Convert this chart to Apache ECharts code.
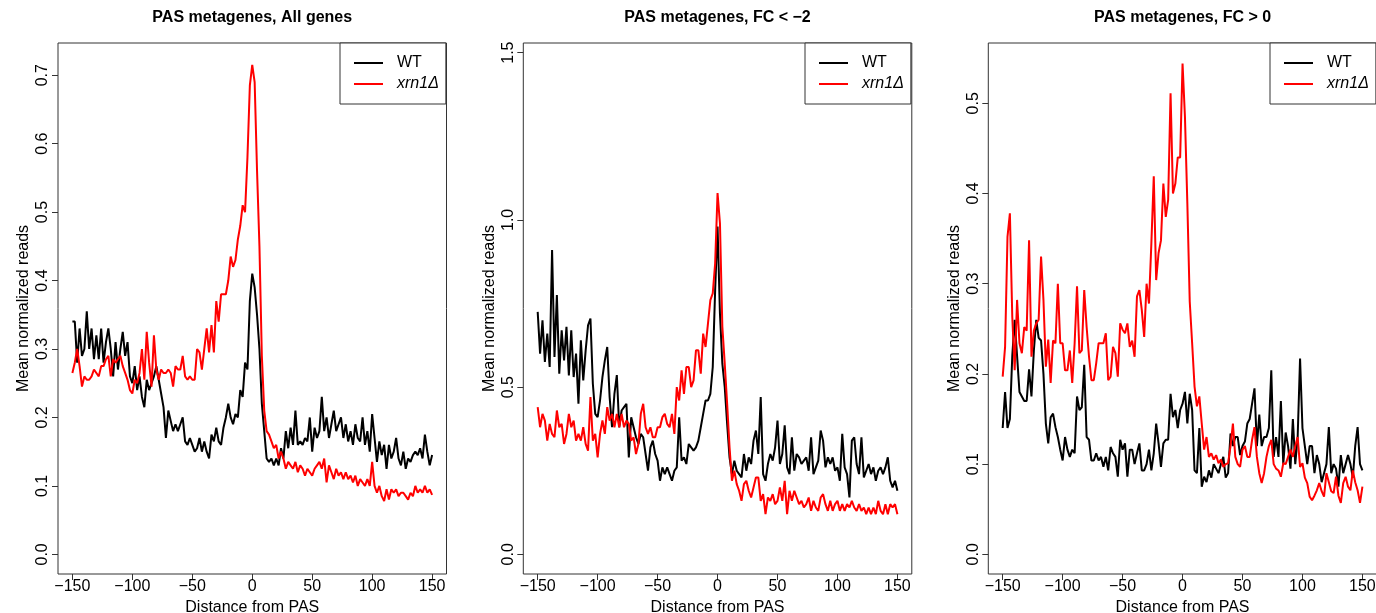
<!DOCTYPE html>
<html>
<head>
<meta charset="utf-8">
<script src="https://cdn.jsdelivr.net/npm/echarts@6/dist/echarts.min.js"></script>
<style>
html,body{margin:0;padding:0;background:#ffffff;}
#chart{width:1376px;height:613px;}
</style>
</head>
<body>
<div id="chart"></div>
<script>
// ---------- DATA ----------
// distance from PAS (every 2 nt, -150 .. 150)
const positions = Array.from({length: 151}, (_, i) => -150 + 2 * i);
const xTickValues = [-150, -100, -50, 0, 50, 100, 150];
const panelTitles = ['PAS metagenes, All genes', 'PAS metagenes, FC < \u22122', 'PAS metagenes, FC > 0'];
const seriesNames = ['WT', 'xrn1\u0394'];
const yTicksAll = [0, 0.1, 0.2, 0.3, 0.4, 0.5, 0.6, 0.7];
const yTicksFcNeg2 = [0, 0.5, 1.0, 1.5];
const yTicksFcPos0 = [0, 0.1, 0.2, 0.3, 0.4, 0.5];

const allGenesWT = [
0.34,0.34,0.28,0.33,0.29,0.30,0.355,0.30,0.33,0.285,
0.32,0.285,0.33,0.28,0.31,0.33,0.30,0.26,0.31,0.27,
0.30,0.325,0.29,0.31,0.26,0.25,0.275,0.24,0.26,0.23,
0.215,0.255,0.24,0.25,0.26,0.275,0.255,0.235,0.215,0.17,
0.21,0.195,0.18,0.19,0.18,0.19,0.2,0.165,0.16,0.17,
0.16,0.15,0.155,0.17,0.15,0.165,0.15,0.14,0.175,0.165,
0.185,0.165,0.16,0.185,0.2,0.22,0.2,0.19,0.205,0.2,
0.24,0.23,0.28,0.27,0.37,0.41,
0.39,0.35,0.30,0.22,0.18,0.14,0.135,0.14,0.13,0.14,
0.13,0.155,0.14,0.18,0.155,0.185,0.16,0.21,0.16,0.165,
0.16,0.17,0.165,0.2,0.15,0.185,0.17,0.18,0.23,0.18,
0.2,0.17,0.19,0.21,0.18,0.19,0.2,0.17,0.19,0.165,
0.18,0.16,0.19,0.17,0.165,0.2,0.16,0.18,0.15,0.205,
0.17,0.135,0.165,0.145,0.16,0.125,0.16,0.14,0.15,0.17,
0.14,0.13,0.15,0.125,0.14,0.135,0.145,0.15,0.145,0.155,
0.14,0.175,0.15,0.13,0.145];

const allGenesXrn1 = [
0.265,0.28,0.30,0.275,0.245,0.26,0.255,0.255,0.26,0.27,
0.265,0.26,0.275,0.275,0.285,0.29,0.26,0.285,0.28,0.285,
0.29,0.275,0.265,0.255,0.24,0.235,0.255,0.25,0.265,0.3,
0.255,0.325,0.28,0.245,0.32,0.27,0.255,0.27,0.265,0.265,
0.27,0.265,0.245,0.275,0.27,0.27,0.29,0.26,0.255,0.26,
0.255,0.255,0.3,0.295,0.27,0.3,0.33,0.295,0.335,0.295,
0.37,0.34,0.38,0.38,0.38,0.40,0.435,0.42,0.43,0.46,
0.48,0.51,0.50,0.58,0.685,0.715,
0.69,0.56,0.45,0.29,0.21,0.18,0.175,0.165,0.155,0.16,
0.14,0.15,0.14,0.125,0.135,0.13,0.125,0.135,0.12,0.13,
0.125,0.115,0.125,0.12,0.115,0.125,0.13,0.135,0.125,0.14,
0.105,0.13,0.12,0.11,0.125,0.115,0.12,0.11,0.12,0.11,
0.115,0.105,0.115,0.1,0.11,0.105,0.1,0.11,0.1,0.135,
0.1,0.09,0.1,0.085,0.078,0.095,0.08,0.095,0.09,0.095,
0.085,0.09,0.09,0.085,0.08,0.09,0.085,0.1,0.09,0.095,
0.09,0.1,0.09,0.095,0.087];

const fcNeg2WT = [
0.725,0.60,0.70,0.575,0.66,0.56,0.91,0.59,0.775,0.54,
0.67,0.58,0.68,0.535,0.67,0.53,0.60,0.45,0.64,0.52,
0.61,0.685,0.705,0.51,0.42,0.41,0.46,0.53,0.58,0.62,
0.47,0.38,0.48,0.536,0.38,0.43,0.44,0.45,0.29,0.41,
0.38,0.35,0.33,0.36,0.35,0.30,0.25,0.32,0.34,0.30,
0.28,0.22,0.26,0.24,0.26,0.24,0.22,0.25,0.26,0.41,
0.28,0.29,0.27,0.33,0.32,0.31,0.32,0.34,0.38,0.42,
0.46,0.46,0.48,0.56,0.79,0.98,
0.72,0.57,0.50,0.39,0.29,0.24,0.28,0.25,0.24,0.23,
0.30,0.25,0.29,0.27,0.34,0.37,0.30,0.47,0.24,0.22,
0.27,0.30,0.28,0.32,0.40,0.27,0.30,0.386,0.26,0.24,
0.35,0.25,0.30,0.29,0.27,0.28,0.29,0.25,0.35,0.24,
0.26,0.28,0.37,0.34,0.26,0.29,0.27,0.29,0.25,0.26,
0.22,0.36,0.26,0.24,0.17,0.34,0.35,0.27,0.24,0.35,
0.23,0.25,0.27,0.24,0.26,0.22,0.25,0.26,0.24,0.26,
0.29,0.22,0.20,0.22,0.19];

const fcNeg2Xrn1 = [
0.44,0.38,0.42,0.40,0.34,0.39,0.36,0.35,0.43,0.38,
0.39,0.33,0.36,0.42,0.38,0.40,0.34,0.36,0.34,0.38,
0.33,0.31,0.47,0.34,0.36,0.29,0.36,0.40,0.36,0.44,
0.40,0.42,0.38,0.42,0.38,0.42,0.38,0.40,0.39,0.34,
0.35,0.30,0.33,0.42,0.45,0.38,0.36,0.38,0.35,0.35,
0.38,0.38,0.41,0.42,0.39,0.38,0.42,0.36,0.50,0.46,
0.55,0.48,0.56,0.56,0.50,0.52,0.61,0.61,0.54,0.66,
0.62,0.69,0.76,0.78,0.87,1.08,
0.99,0.68,0.57,0.45,0.32,0.22,0.25,0.21,0.19,0.16,
0.21,0.22,0.19,0.17,0.20,0.23,0.23,0.16,0.18,0.12,
0.17,0.16,0.18,0.15,0.16,0.20,0.16,0.22,0.12,0.19,
0.16,0.19,0.17,0.15,0.16,0.14,0.15,0.17,0.13,0.16,
0.14,0.13,0.17,0.18,0.15,0.13,0.16,0.13,0.15,0.16,
0.13,0.15,0.13,0.15,0.14,0.16,0.14,0.13,0.15,0.13,
0.14,0.12,0.14,0.12,0.14,0.12,0.16,0.13,0.12,0.15,
0.12,0.15,0.14,0.15,0.12];

const fcPos0WT = [
0.14,0.18,0.14,0.15,0.22,0.26,0.22,0.18,0.175,0.17,
0.17,0.205,0.175,0.226,0.26,0.24,0.237,0.2,0.145,0.123,
0.152,0.156,0.141,0.13,0.116,0.104,0.13,0.116,0.108,0.116,
0.112,0.175,0.16,0.163,0.21,0.13,0.127,0.104,0.104,0.112,
0.104,0.108,0.097,0.108,0.093,0.119,0.112,0.108,0.086,0.127,
0.116,0.123,0.086,0.116,0.116,0.1,0.112,0.123,0.093,0.093,
0.1,0.116,0.093,0.112,0.145,0.123,0.097,0.123,0.127,0.127,
0.178,0.152,0.16,0.14,0.16,0.167,
0.18,0.145,0.178,0.16,0.093,0.09,0.14,0.075,0.086,0.08,
0.093,0.085,0.1,0.095,0.09,0.1,0.108,0.085,0.09,0.134,
0.12,0.13,0.13,0.11,0.12,0.125,0.145,0.15,0.167,0.184,
0.12,0.155,0.12,0.13,0.13,0.14,0.204,0.108,0.13,0.108,
0.17,0.1,0.135,0.12,0.095,0.15,0.1,0.13,0.217,0.14,
0.12,0.1,0.12,0.12,0.09,0.11,0.1,0.08,0.09,0.1,
0.141,0.09,0.1,0.095,0.075,0.11,0.09,0.1,0.11,0.1,
0.085,0.12,0.141,0.1,0.093];

const fcPos0Xrn1 = [
0.197,0.23,0.352,0.378,0.263,0.204,0.282,0.234,0.223,0.252,
0.248,0.348,0.219,0.248,0.256,0.26,0.33,0.282,0.208,0.238,
0.19,0.237,0.234,0.30,0.234,0.234,0.204,0.204,0.226,0.19,
0.234,0.297,0.223,0.226,0.293,0.252,0.219,0.193,0.193,0.212,
0.234,0.234,0.234,0.245,0.193,0.197,0.23,0.223,0.197,0.256,
0.249,0.245,0.256,0.23,0.237,0.219,0.286,0.293,0.271,0.241,
0.30,0.278,0.345,0.419,0.304,0.334,0.348,0.411,0.374,0.393,
0.511,0.40,0.411,0.44,0.44,0.544,
0.485,0.389,0.28,0.234,0.186,0.164,0.175,0.145,0.116,0.13,
0.108,0.112,0.105,0.11,0.101,0.105,0.097,0.1,0.101,0.12,
0.145,0.108,0.1,0.097,0.116,0.12,0.108,0.108,0.127,0.141,
0.108,0.09,0.079,0.09,0.108,0.12,0.127,0.1,0.095,0.093,
0.086,0.101,0.1,0.108,0.116,0.108,0.12,0.13,0.097,0.101,
0.085,0.079,0.064,0.06,0.065,0.071,0.079,0.07,0.064,0.09,
0.08,0.07,0.068,0.086,0.065,0.057,0.079,0.086,0.075,0.071,
0.093,0.08,0.071,0.057,0.075];

// ---------- LAYOUT / STYLE ----------
const FONT = 'Liberation Sans, Arial, Helvetica, sans-serif';
const panels = [
  {left: 58,    yMin: -0.0287, yMax: 0.747,  yTicks: yTicksAll,    wt: allGenesWT, mut: allGenesXrn1, legendLeft: 340},
  {left: 523.3, yMin: -0.0588, yMax: 1.5288, yTicks: yTicksFcNeg2, wt: fcNeg2WT,   mut: fcNeg2Xrn1,   legendLeft: 805},
  {left: 988.3, yMin: -0.0218, yMax: 0.5668, yTicks: yTicksFcPos0, wt: fcPos0WT,   mut: fcPos0Xrn1,   legendLeft: 1270}
];
const GRID_W = 388.5, GRID_TOP = 43, GRID_H = 531;
const AXIS_COLOR = '#333333';
const LEGEND_LINE = 'path://M0,0 L29,0 L29,2 L0,2 Z';

const option = {
  animation: false,
  backgroundColor: '#ffffff',
  title: [], grid: [], xAxis: [], yAxis: [], legend: [], series: []
};

panels.forEach((p, i) => {
  option.title.push({
    text: panelTitles[i], left: p.left + GRID_W / 2, top: 10, textAlign: 'center', padding: 0,
    textStyle: {fontSize: 16, fontWeight: 'bold', color: '#000', fontFamily: FONT}
  });
  option.grid.push({
    left: p.left, top: GRID_TOP, width: GRID_W, height: GRID_H,
    containLabel: false, outerBoundsMode: 'none',
    show: true, borderColor: AXIS_COLOR, borderWidth: 1, backgroundColor: 'transparent'
  });
  option.xAxis.push({
    type: 'value', gridIndex: i, min: -162, max: 162, position: 'bottom',
    axisLine: {show: false, onZero: false}, splitLine: {show: false},
    axisTick: {show: true, inside: false, length: 6, lineStyle: {color: AXIS_COLOR, width: 1}, customValues: xTickValues},
    axisLabel: {customValues: xTickValues, margin: 5, fontSize: 16, color: '#000', fontFamily: FONT,
      formatter: v => String(v).replace('-', '\u2212')},
    name: 'Distance from PAS', nameLocation: 'middle', nameGap: 22,
    nameTextStyle: {fontSize: 16, color: '#000', fontFamily: FONT}
  });
  option.yAxis.push({
    type: 'value', gridIndex: i, min: p.yMin, max: p.yMax, position: 'left',
    axisLine: {show: false, onZero: false}, splitLine: {show: false},
    axisTick: {show: true, inside: false, length: 6, lineStyle: {color: AXIS_COLOR, width: 1}, customValues: p.yTicks},
    axisLabel: {customValues: p.yTicks, rotate: 90, margin: 7, fontSize: 16, color: '#000', fontFamily: FONT,
      formatter: v => Number(v).toFixed(1)},
    name: 'Mean normalized reads', nameLocation: 'middle', nameGap: 26,
    nameTextStyle: {fontSize: 16, color: '#000', fontFamily: FONT}
  });
  option.legend.push({
    left: p.legendLeft, top: GRID_TOP, orient: 'vertical',
    padding: [12, 7, 12, 14], itemWidth: 29, itemHeight: 14, itemGap: 5,
    borderColor: AXIS_COLOR, borderWidth: 1, borderRadius: 0, backgroundColor: '#ffffff',
    selectedMode: false, symbolKeepAspect: true,
    data: [
      {name: seriesNames[0], icon: LEGEND_LINE},
      {name: seriesNames[1], icon: LEGEND_LINE, textStyle: {fontStyle: 'italic'}}
    ],
    textStyle: {fontSize: 16, color: '#000', fontFamily: FONT, padding: [0, 0, 0, 9]}
  });
  option.series.push({
    type: 'line', name: seriesNames[0], xAxisIndex: i, yAxisIndex: i,
    data: positions.map((x, k) => [x, p.wt[k]]),
    symbol: 'none', showSymbol: false, clip: true,
    lineStyle: {color: '#000000', width: 2}, itemStyle: {color: '#000000'}
  });
  option.series.push({
    type: 'line', name: seriesNames[1], xAxisIndex: i, yAxisIndex: i,
    data: positions.map((x, k) => [x, p.mut[k]]),
    symbol: 'none', showSymbol: false, clip: true,
    lineStyle: {color: '#ff0000', width: 2}, itemStyle: {color: '#ff0000'}
  });
});

const chart = echarts.init(document.getElementById('chart'), null, {renderer: 'canvas'});
chart.setOption(option);
</script>
</body>
</html>
